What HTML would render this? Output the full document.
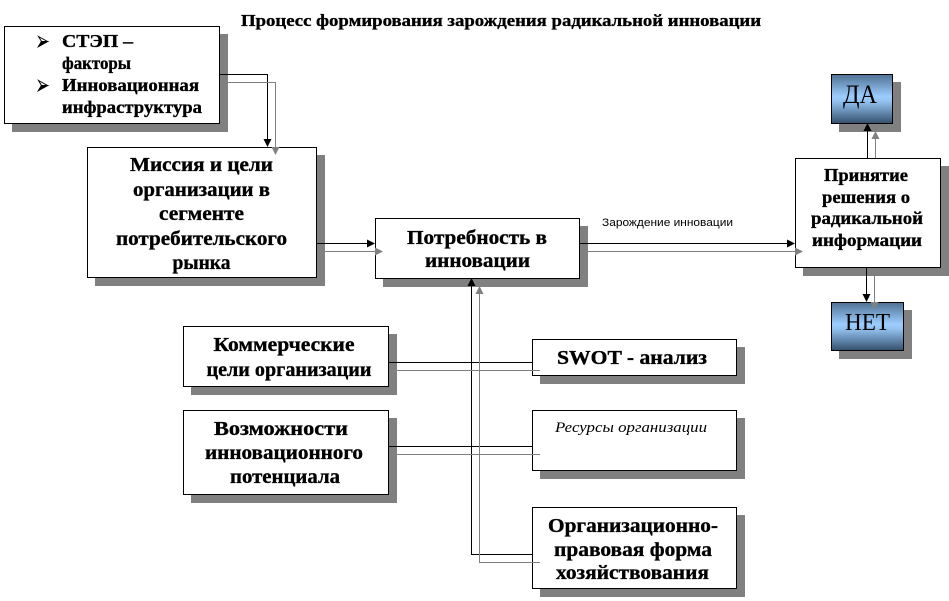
<!DOCTYPE html>
<html>
<head>
<meta charset="utf-8">
<style>
  html,body{margin:0;padding:0;background:#fff;}
  svg{display:block;}
  .b{font-family:"Liberation Serif","Noto Serif CJK SC",serif;font-weight:bold;fill:#000;stroke:#000;stroke-width:0.35;}
  .r{font-family:"Liberation Serif","Noto Serif CJK SC",serif;fill:#000;}
  .s{font-family:"Liberation Sans","Noto Sans CJK SC",sans-serif;fill:#000;}
</style>
</head>
<body>
<svg width="949" height="601" viewBox="0 0 949 601" xmlns="http://www.w3.org/2000/svg">
  <defs>
    <linearGradient id="g" x1="0" y1="0" x2="0" y2="1">
      <stop offset="0" stop-color="#4f7193"/>
      <stop offset="0.45" stop-color="#9ccdff"/>
      <stop offset="0.55" stop-color="#93c2f0"/>
      <stop offset="1" stop-color="#34506c"/>
    </linearGradient>
  </defs>

  <!-- Title -->
  <text class="b" x="241" y="26" font-size="17" textLength="520" lengthAdjust="spacingAndGlyphs">Процесс формирования зарождения радикальной инновации</text>

  <!-- shadows -->
  <g fill="#808080" shape-rendering="crispEdges">
    <rect x="12" y="34" width="216" height="98"/>
    <rect x="95" y="155" width="230" height="131"/>
    <rect x="383" y="226" width="205" height="61"/>
    <rect x="803" y="166" width="146" height="110"/>
    <rect x="839" y="82" width="62" height="50"/>
    <rect x="839" y="310" width="73" height="49"/>
    <rect x="191" y="334" width="206" height="61"/>
    <rect x="191" y="418" width="206" height="85"/>
    <rect x="540" y="347" width="205" height="37"/>
    <rect x="540" y="418" width="205" height="61"/>
    <rect x="540" y="515" width="205" height="82"/>
  </g>

  <!-- boxes -->
  <g fill="#fff" stroke="#000" stroke-width="1" shape-rendering="crispEdges">
    <rect x="4.5" y="26.5" width="215" height="97"/>
    <rect x="87.5" y="147.5" width="229" height="130"/>
    <rect x="375.5" y="218.5" width="204" height="60"/>
    <rect x="795.5" y="158.5" width="145" height="109"/>
    <rect x="183.5" y="326.5" width="205" height="60"/>
    <rect x="183.5" y="410.5" width="205" height="84"/>
    <rect x="532.5" y="339.5" width="204" height="36"/>
    <rect x="532.5" y="410.5" width="204" height="60"/>
    <rect x="532.5" y="507.5" width="204" height="81"/>
    <rect x="831.5" y="74.5" width="61" height="49" fill="url(#g)" stroke-width="1.4"/>
    <rect x="831.5" y="302.5" width="72" height="48" fill="url(#g)" stroke-width="1.4"/>
  </g>

  <!-- black connectors -->
  <g fill="none" stroke="#000" stroke-width="1" shape-rendering="crispEdges">
    <polyline points="219,74.5 267.5,74.5 267.5,140"/>
    <line x1="316" y1="243.5" x2="368" y2="243.5"/>
    <line x1="579" y1="243.5" x2="788" y2="243.5"/>
    <line x1="867.5" y1="158" x2="867.5" y2="130"/>
    <line x1="866.5" y1="267" x2="866.5" y2="295"/>
    <line x1="388" y1="362.5" x2="532" y2="362.5"/>
    <line x1="388" y1="446.5" x2="532" y2="446.5"/>
    <polyline points="532,554.5 471.5,554.5 471.5,285"/>
  </g>
  <g fill="#000">
    <polygon points="263.5,139 271.5,139 267.5,147"/>
    <polygon points="367,239.5 367,247.5 375,243.5"/>
    <polygon points="787,239.5 787,247.5 795,243.5"/>
    <polygon points="863.5,131 871.5,131 867.5,123"/>
    <polygon points="862.5,294 870.5,294 866.5,302"/>
    <polygon points="467.5,286 475.5,286 471.5,278"/>
  </g>

  <!-- gray (shadow) connectors -->
  <g fill="none" stroke="#808080" stroke-width="1" shape-rendering="crispEdges">
    <polyline points="227,82.5 275.5,82.5 275.5,148"/>
    <line x1="324" y1="251.5" x2="376" y2="251.5"/>
    <line x1="587" y1="251.5" x2="796" y2="251.5"/>
    <line x1="875.5" y1="158" x2="875.5" y2="138"/>
    <line x1="874.5" y1="275" x2="874.5" y2="303"/>
    <line x1="396" y1="370.5" x2="540" y2="370.5"/>
    <line x1="396" y1="454.5" x2="540" y2="454.5"/>
    <polyline points="540,562.5 479.5,562.5 479.5,293"/>
  </g>
  <g fill="#808080">
    <polygon points="271.5,147 279.5,147 275.5,155"/>
    <polygon points="375,247.5 375,255.5 383,251.5"/>
    <polygon points="795,247.5 795,255.5 803,251.5"/>
    <polygon points="871.5,139 879.5,139 875.5,131"/>
    <polygon points="870.5,302 878.5,302 874.5,310"/>
    <polygon points="475.5,294 483.5,294 479.5,286"/>
  </g>

  <!-- bullets -->
  <g stroke="#000" stroke-width="1" stroke-linejoin="miter">
    <polygon points="38.5,36.5 47.5,41.5 38.5,46.5 41.5,41.5" fill="#fff"/>
    <polygon points="41.5,41.5 47.5,41.5 38.5,46.5" fill="#000"/>
    <polygon points="38.5,80.5 47.5,85.5 38.5,90.5 41.5,85.5" fill="#fff"/>
    <polygon points="41.5,85.5 47.5,85.5 38.5,90.5" fill="#000"/>
  </g>

  <!-- box 1 text -->
  <g class="b" font-size="18">
    <text x="62" y="47" textLength="71" lengthAdjust="spacingAndGlyphs">СТЭП –</text>
    <text x="62" y="69" textLength="69" lengthAdjust="spacingAndGlyphs">факторы</text>
    <text x="62" y="91" textLength="137" lengthAdjust="spacingAndGlyphs">Инновационная</text>
    <text x="62" y="113" textLength="140" lengthAdjust="spacingAndGlyphs">инфраструктура</text>
  </g>

  <!-- Миссия -->
  <g class="b" font-size="20" text-anchor="middle">
    <text x="201.5" y="171" textLength="143" lengthAdjust="spacingAndGlyphs">Миссия и цели</text>
    <text x="201.5" y="196" textLength="137" lengthAdjust="spacingAndGlyphs">организации в</text>
    <text x="201.5" y="220" textLength="85" lengthAdjust="spacingAndGlyphs">сегменте</text>
    <text x="201.5" y="245" textLength="171" lengthAdjust="spacingAndGlyphs">потребительского</text>
    <text x="201.5" y="269" textLength="58" lengthAdjust="spacingAndGlyphs">рынка</text>
  </g>

  <!-- Потребность -->
  <g class="b" font-size="20" text-anchor="middle">
    <text x="477" y="244" textLength="140" lengthAdjust="spacingAndGlyphs">Потребность в</text>
    <text x="477.5" y="267" textLength="105" lengthAdjust="spacingAndGlyphs">инновации</text>
  </g>

  <!-- Зарождение -->
  <text class="s" x="602" y="226" font-size="11" textLength="131" lengthAdjust="spacingAndGlyphs">Зарождение инновации</text>

  <!-- Принятие -->
  <g class="b" font-size="18" text-anchor="middle">
    <text x="866" y="181" textLength="84" lengthAdjust="spacingAndGlyphs">Принятие</text>
    <text x="866" y="203" textLength="88" lengthAdjust="spacingAndGlyphs">решения о</text>
    <text x="867" y="224" textLength="112" lengthAdjust="spacingAndGlyphs">радикальной</text>
    <text x="867" y="246" textLength="110" lengthAdjust="spacingAndGlyphs">информации</text>
  </g>

  <!-- ДА / НЕТ -->
  <text class="r" x="860" y="103" font-size="26" text-anchor="middle" textLength="34" lengthAdjust="spacingAndGlyphs">ДА</text>
  <text class="r" x="867.5" y="330" font-size="24" text-anchor="middle" textLength="45" lengthAdjust="spacingAndGlyphs">НЕТ</text>

  <!-- Коммерческие -->
  <g class="b" font-size="20" text-anchor="middle">
    <text x="284" y="351" textLength="141" lengthAdjust="spacingAndGlyphs">Коммерческие</text>
    <text x="289" y="376" textLength="165" lengthAdjust="spacingAndGlyphs">цели организации</text>
  </g>

  <!-- Возможности -->
  <g class="b" font-size="20" text-anchor="middle">
    <text x="281" y="435" textLength="134" lengthAdjust="spacingAndGlyphs">Возможности</text>
    <text x="284" y="459" textLength="158" lengthAdjust="spacingAndGlyphs">инновационного</text>
    <text x="285" y="483" textLength="110" lengthAdjust="spacingAndGlyphs">потенциала</text>
  </g>

  <!-- SWOT -->
  <text class="b" x="632" y="364" font-size="20" text-anchor="middle" textLength="150" lengthAdjust="spacingAndGlyphs">SWOT - анализ</text>

  <!-- Ресурсы -->
  <text class="r" x="631" y="432" font-size="15" font-style="italic" text-anchor="middle" textLength="152" lengthAdjust="spacingAndGlyphs">Ресурсы организации</text>

  <!-- Орг -->
  <g class="b" font-size="20" text-anchor="middle">
    <text x="633" y="532" textLength="170" lengthAdjust="spacingAndGlyphs">Организационно-</text>
    <text x="633" y="556" textLength="158" lengthAdjust="spacingAndGlyphs">правовая форма</text>
    <text x="632.5" y="579" textLength="153" lengthAdjust="spacingAndGlyphs">хозяйствования</text>
  </g>
</svg>
</body>
</html>
